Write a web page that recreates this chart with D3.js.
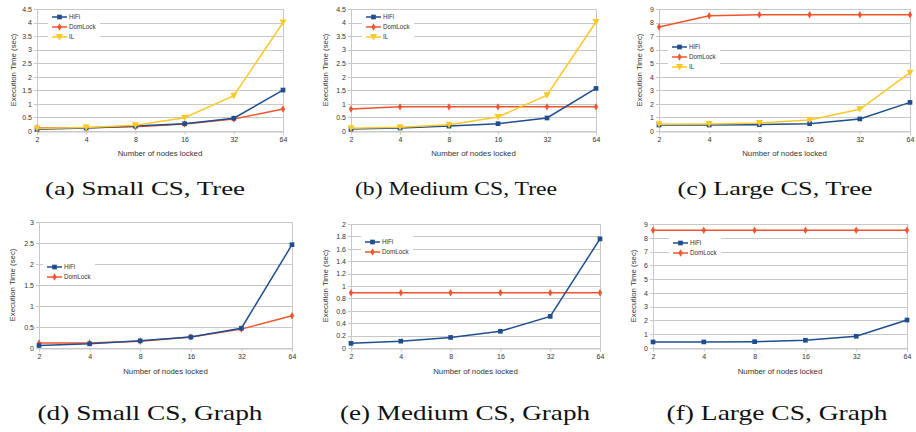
<!DOCTYPE html>
<html>
<head>
<meta charset="utf-8">
<script src="https://cdn.jsdelivr.net/npm/d3@7"></script>
<style>
  body { margin: 0; background: #fff; }
  svg { display: block; }
</style>
</head>
<body>
<script>
var W = 916, H = 432;
var sans = "'Liberation Sans', Arial, sans-serif";
var serif = "'Liberation Serif', 'Times New Roman', serif";

// data
var nodes = ["2", "4", "8", "16", "32", "64"];

var smallTreeHiFi    = [0.06, 0.11, 0.18, 0.27, 0.47, 1.51];
var smallTreeDomLock = [0.11, 0.12, 0.16, 0.26, 0.44, 0.81];
var smallTreeIL      = [0.09, 0.13, 0.21, 0.49, 1.30, 4.00];

var mediumTreeHiFi    = [0.07, 0.11, 0.18, 0.27, 0.48, 1.57];
var mediumTreeDomLock = [0.81, 0.89, 0.89, 0.89, 0.89, 0.89];
var mediumTreeIL      = [0.10, 0.14, 0.23, 0.52, 1.32, 4.02];

var largeTreeHiFi    = [0.44, 0.44, 0.47, 0.54, 0.89, 2.11];
var largeTreeDomLock = [7.67, 8.50, 8.58, 8.58, 8.58, 8.58];
var largeTreeIL      = [0.49, 0.52, 0.59, 0.81, 1.60, 4.30];

var smallGraphHiFi    = [0.06, 0.10, 0.17, 0.26, 0.47, 2.46];
var smallGraphDomLock = [0.12, 0.12, 0.16, 0.26, 0.45, 0.77];

var mediumGraphHiFi    = [0.075, 0.11, 0.17, 0.27, 0.51, 1.76];
var mediumGraphDomLock = [0.89, 0.89, 0.89, 0.89, 0.89, 0.89];

var largeGraphHiFi    = [0.44, 0.44, 0.46, 0.56, 0.85, 2.03];
var largeGraphDomLock = [8.54, 8.54, 8.54, 8.54, 8.54, 8.54];

var yTicksSmallTree = [0, 0.5, 1, 1.5, 2, 2.5, 3, 3.5, 4, 4.5];
var yTicksLarge     = [0, 1, 2, 3, 4, 5, 6, 7, 8, 9];
var yTicksSmallGraph  = [0, 0.5, 1, 1.5, 2, 2.5, 3];
var yTicksMediumGraph = [0, 0.2, 0.4, 0.6, 0.8, 1, 1.2, 1.4, 1.6, 1.8, 2];

var captions = ["(a) Small CS, Tree", "(b) Medium CS, Tree", "(c) Large CS, Tree",
                "(d) Small CS, Graph", "(e) Medium CS, Graph", "(f) Large CS, Graph"];

var seriesStyle = {
  HiFi:    { color: "#1f4e8f", shape: d3.symbolSquare,   size: 22 },
  DomLock: { color: "#f2542d", shape: d3.symbolDiamond,  size: 16 },
  IL:      { color: "#fbc925", shape: "tri",             size: 0 }
};

// layout of each panel (plot area, legend place, label places)
var panels = [
  { series: { HiFi: smallTreeHiFi, DomLock: smallTreeDomLock, IL: smallTreeIL },
    ticks: yTicksSmallTree, l: 37, r: 283, t: 9, b: 131,
    ylabX: 13, xlabY: 156, legX: 52, legY: 17, capX: 145, capY: 195, capW: 200 },
  { series: { HiFi: mediumTreeHiFi, DomLock: mediumTreeDomLock, IL: mediumTreeIL },
    ticks: yTicksSmallTree, l: 351, r: 596, t: 9, b: 131,
    ylabX: 325, xlabY: 156, legX: 61 + 305, legY: 17, capX: 456, capY: 195, capW: 202 },
  { series: { HiFi: largeTreeHiFi, DomLock: largeTreeDomLock, IL: largeTreeIL },
    ticks: yTicksLarge, l: 659, r: 910, t: 9, b: 131,
    ylabX: 639, xlabY: 156, legX: 672, legY: 47, capX: 775, capY: 195, capW: 195 },
  { series: { HiFi: smallGraphHiFi, DomLock: smallGraphDomLock },
    ticks: yTicksSmallGraph, l: 39, r: 292, t: 222, b: 348,
    ylabX: 12, xlabY: 374, legX: 47, legY: 267, capX: 150, capY: 420, capW: 225 },
  { series: { HiFi: mediumGraphHiFi, DomLock: mediumGraphDomLock },
    ticks: yTicksMediumGraph, l: 351, r: 600, t: 224, b: 348,
    ylabX: 325, xlabY: 374, legX: 365, legY: 242, capX: 465, capY: 420, capW: 250 },
  { series: { HiFi: largeGraphHiFi, DomLock: largeGraphDomLock },
    ticks: yTicksLarge, l: 653, r: 907, t: 224, b: 348,
    ylabX: 633, xlabY: 374, legX: 673, legY: 243, capX: 777, capY: 420, capW: 221 }
];

var svg = d3.select("body").append("svg")
    .attr("width", W)
    .attr("height", H);

function drawMarker(g, name, x, y) {
  var st = seriesStyle[name];
  if (st.shape === "tri") {
    g.append("path")
      .attr("d", "M" + (x - 3.5) + "," + (y - 3) + "L" + (x + 3.5) + "," + (y - 3) + "L" + x + "," + (y + 3.5) + "Z")
      .attr("fill", st.color);
  } else {
    g.append("path")
      .attr("d", d3.symbol().type(st.shape).size(st.size)())
      .attr("transform", "translate(" + x + "," + y + ")")
      .attr("fill", st.color);
  }
}

panels.forEach(function(p, pi) {
  var g = svg.append("g");
  var ymax = p.ticks[p.ticks.length - 1];

  var x = d3.scalePoint().domain(nodes).range([p.l, p.r]);
  var y = d3.scaleLinear().domain([0, ymax]).range([p.b, p.t]);

  // horizontal grid
  g.append("g").selectAll("line")
    .data(p.ticks)
    .enter().append("line")
    .attr("x1", p.l - 3).attr("x2", p.r)
    .attr("y1", function(d) { return Math.round(y(d)) + 0.5; })
    .attr("y2", function(d) { return Math.round(y(d)) + 0.5; })
    .attr("stroke", "#c8c8c8")
    .attr("stroke-width", 1);

  // frame sides
  g.append("line")
    .attr("x1", Math.round(p.l) + 0.5).attr("x2", Math.round(p.l) + 0.5)
    .attr("y1", p.t).attr("y2", p.b + 3)
    .attr("stroke", "#c8c8c8");
  g.append("line")
    .attr("x1", Math.round(p.r) + 0.5).attr("x2", Math.round(p.r) + 0.5)
    .attr("y1", p.t).attr("y2", p.b + 3)
    .attr("stroke", "#c8c8c8");

  // x axis ticks + labels
  var xAxis = d3.axisBottom(x).tickSize(3).tickPadding(3);
  var xg = g.append("g")
    .attr("transform", "translate(0," + (Math.round(p.b) + 0.5) + ")")
    .call(xAxis);
  xg.select(".domain").attr("stroke", "#c8c8c8");
  xg.selectAll(".tick line").attr("stroke", "#c8c8c8");
  xg.selectAll("text")
    .attr("fill", "#333")
    .attr("font-family", sans)
    .attr("font-size", "7px");

  // y axis labels
  var yAxis = d3.axisLeft(y).tickValues(p.ticks).tickSize(0).tickPadding(5)
    .tickFormat(function(d) { return String(+d.toFixed(2)); });
  var yg = g.append("g")
    .attr("transform", "translate(" + p.l + ",0)")
    .call(yAxis);
  yg.select(".domain").remove();
  yg.selectAll("text")
    .attr("fill", "#333")
    .attr("font-family", sans)
    .attr("font-size", "7px");

  // axis titles
  g.append("text")
    .attr("transform", "translate(" + p.ylabX + "," + ((p.t + p.b) / 2) + ") rotate(-90)")
    .attr("text-anchor", "middle")
    .attr("dy", "0.35em")
    .attr("font-family", sans)
    .attr("font-size", "7.8px")
    .attr("fill", "#333")
    .text("Execution Time (sec)");

  g.append("text")
    .attr("x", (p.l + p.r) / 2)
    .attr("y", p.xlabY)
    .attr("text-anchor", "middle")
    .attr("font-family", sans)
    .attr("font-size", "7.8px")
    .attr("fill", "#333")
    .text("Number of nodes locked");

  // series lines and markers
  var names = Object.keys(p.series);
  var line = d3.line()
    .x(function(d, i) { return x(nodes[i]); })
    .y(function(d) { return y(d); });

  // DomLock under HiFi, IL on top like the reference
  var order = ["DomLock", "HiFi", "IL"].filter(function(n) { return p.series[n]; });
  order.forEach(function(name) {
    var vals = p.series[name];
    g.append("path")
      .datum(vals)
      .attr("d", line)
      .attr("fill", "none")
      .attr("stroke", seriesStyle[name].color)
      .attr("stroke-width", 1.5);
    vals.forEach(function(v, i) {
      drawMarker(g, name, x(nodes[i]), y(v));
    });
  });

  // legend
  var lg = g.append("g");
  var rowH = 10;
  lg.append("rect")
    .attr("x", p.legX - 4)
    .attr("y", p.legY - 6)
    .attr("width", 52)
    .attr("height", names.length * rowH + 2)
    .attr("fill", "#fff");
  names.forEach(function(name, i) {
    var ly = p.legY + i * rowH;
    lg.append("line")
      .attr("x1", p.legX).attr("x2", p.legX + 15)
      .attr("y1", ly).attr("y2", ly)
      .attr("stroke", seriesStyle[name].color)
      .attr("stroke-width", 1.5);
    drawMarker(lg, name, p.legX + 7.5, ly);
    lg.append("text")
      .attr("x", p.legX + 17)
      .attr("y", ly)
      .attr("dy", "0.35em")
      .attr("font-family", sans)
      .attr("font-size", "6.3px")
      .attr("fill", "#333")
      .text(name);
  });

  // caption
  svg.append("text")
    .attr("x", p.capX)
    .attr("y", p.capY)
    .attr("text-anchor", "middle")
    .attr("font-family", serif)
    .attr("font-size", pi < 3 ? "19px" : "21px")
    .attr("textLength", p.capW)
    .attr("lengthAdjust", "spacingAndGlyphs")
    .attr("fill", "#111")
    .text(captions[pi]);
});
</script>
</body>
</html>
